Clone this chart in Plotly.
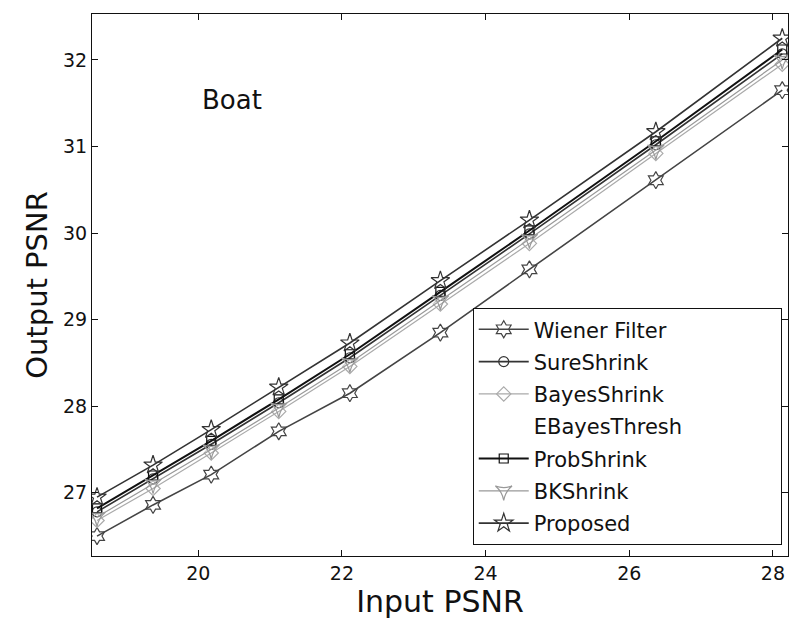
import plotly.graph_objects as go

input_psnr = [18.59, 19.37, 20.18, 21.12, 22.11, 23.37, 24.61, 26.37, 28.13]

wiener = [26.50, 26.86, 27.21, 27.71, 28.15, 28.85, 29.58, 30.61, 31.65]
sure = [26.78, 27.16, 27.56, 28.04, 28.56, 29.28, 29.99, 31.02, 32.07]
bayes = [26.68, 27.05, 27.46, 27.94, 28.46, 29.18, 29.88, 30.92, 31.95]
ebayes = [26.74, 27.12, 27.52, 28.00, 28.52, 29.24, 29.95, 30.98, 32.03]
prob = [26.82, 27.20, 27.60, 28.08, 28.60, 29.32, 30.03, 31.06, 32.12]
bk = [26.72, 27.10, 27.50, 27.98, 28.50, 29.22, 29.93, 30.96, 32.00]
proposed = [26.95, 27.32, 27.73, 28.22, 28.73, 29.45, 30.15, 31.17, 32.25]

x_ticks = [20, 22, 24, 26, 28]
y_ticks = [27, 28, 29, 30, 31, 32]

series = [
    ("Wiener Filter", wiener, "#444444", "hexagram-open", 1.6, 13),
    ("SureShrink", sure, "#333333", "circle-open", 1.6, 10),
    ("BayesShrink", bayes, "#aaaaaa", "diamond-open", 1.2, 11),
    ("EBayesThresh", ebayes, "#ffffff", "circle", 0.5, 1),
    ("ProbShrink", prob, "#111111", "square-open", 2.0, 9),
    ("BKShrink", bk, "#999999", "star-triangle-down-open", 1.2, 12),
    ("Proposed", proposed, "#333333", "star-open", 1.6, 14),
]

FONT = "DejaVu Sans"

fig = go.Figure()
for i, (name, ys, color, sym, lw, ms) in enumerate(series):
    label = name + ("\u00a0" * 14 if name == "EBayesThresh" else "")
    fig.add_trace(go.Scatter(
        x=input_psnr, y=ys, name=label, mode="lines+markers",
        legendgroup=f"g{i}",
        line=dict(color=color, width=lw),
        marker=dict(symbol=sym, size=ms, color=color, line=dict(color=color, width=1.2)),
    ))

fig.add_annotation(x=20.47, y=31.54, text="Boat", showarrow=False,
                   font=dict(size=26, color="#111", family=FONT))

axis_common = dict(showline=True, linecolor="#111", linewidth=1.2, mirror="ticks",
                   ticks="inside", ticklen=6, tickcolor="#111", showgrid=False,
                   zeroline=False, tickfont=dict(size=19, color="#111", family=FONT))

fig.update_layout(
    width=790, height=627,
    margin=dict(l=92, r=2, t=14, b=71),
    paper_bgcolor="white", plot_bgcolor="white",
    xaxis=dict(range=[18.52, 28.21], tickvals=x_ticks,
               title=dict(text="Input PSNR", font=dict(size=30, color="#111", family=FONT), standoff=4),
               **axis_common),
    yaxis=dict(range=[26.27, 32.53], tickvals=y_ticks,
               title=dict(text="Output PSNR", font=dict(size=29, color="#111", family=FONT), standoff=6),
               **axis_common),
    legend=dict(x=0.991, y=0.02, xanchor="right", yanchor="bottom",
                bgcolor="white", bordercolor="#111", borderwidth=1,
                font=dict(size=21, color="#111", family=FONT),
                tracegroupgap=2, itemwidth=50),
    showlegend=True,
)

fig.write_html("out.html")
